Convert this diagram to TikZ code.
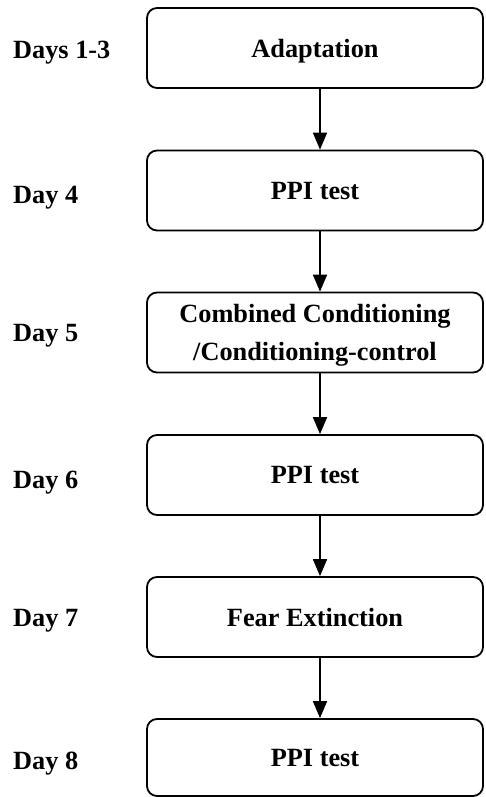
\documentclass[tikz,border=0pt]{standalone}
\usepackage{fontspec}
\setmainfont{Liberation Serif}
\usetikzlibrary{arrows.meta}
\begin{document}
\begin{tikzpicture}[x=1pt,y=-1pt,
  box/.style={draw,line width=1.8pt,rounded corners=10pt,minimum width=336pt,minimum height=80pt,inner sep=0pt,text depth=0pt,font=\fontsize{26.3}{38}\selectfont\bfseries,align=center},
  day/.style={anchor=base west,inner sep=0pt,font=\fontsize{26.3}{30}\selectfont\bfseries},
  arr/.style={line width=1.8pt,-{Triangle[length=17pt,width=14pt]}}]
\useasboundingbox (0,0) rectangle (485,797);
\node[box] (b1) at (315,48) {Adaptation};
\node[box] (b2) at (315,190.5) {PPI test};
\node[box] (b3) at (315,332.5) {Combined Conditioning\\/Conditioning-control};
\node[box] (b4) at (315,475) {PPI test};
\node[box] (b5) at (315,617) {Fear Extinction};
\node[box,minimum height=77pt] (b6) at (315,757.5) {PPI test};
\node[day] (d1) at (13,59) {Days 1-3};
\node[day] (d2) at (13,203) {Day 4};
\node[day] (d3) at (13,341) {Day 5};
\node[day] (d4) at (13,488) {Day 6};
\node[day] (d5) at (13,626) {Day 7};
\node[day] (d6) at (13,769) {Day 8};
\draw[arr] ([xshift=5pt]b1.south) -- ([xshift=5pt]b2.north);
\draw[arr] ([xshift=5pt]b2.south) -- ([xshift=5pt]b3.north);
\draw[arr] ([xshift=5pt]b3.south) -- ([xshift=5pt]b4.north);
\draw[arr] ([xshift=5pt]b4.south) -- ([xshift=5pt]b5.north);
\draw[arr] ([xshift=5pt]b5.south) -- ([xshift=5pt]b6.north);
\end{tikzpicture}
\end{document}
